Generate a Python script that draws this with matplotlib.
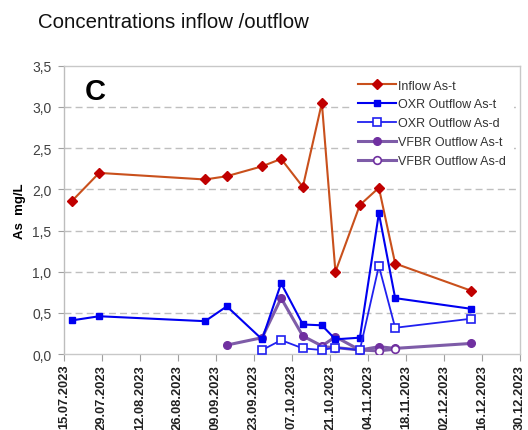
import matplotlib
matplotlib.use('Agg')
import matplotlib.pyplot as plt
import matplotlib.dates as mdates
import pandas as pd

plt.rcParams['font.family'] = ['Liberation Sans', 'DejaVu Sans']

#-----DATA-----#
inflow_dates = ['2023-07-18', '2023-07-28', '2023-09-05', '2023-09-13', '2023-09-26', '2023-10-03',
                '2023-10-11', '2023-10-18', '2023-10-23', '2023-11-01', '2023-11-08', '2023-11-14',
                '2023-12-12']
inflow_ast = [1.86, 2.20, 2.12, 2.16, 2.28, 2.37, 2.03, 3.05, 1.00, 1.81, 2.02, 1.10, 0.77]

oxr_t_dates = ['2023-07-18', '2023-07-28', '2023-09-05', '2023-09-13', '2023-09-26', '2023-10-03',
               '2023-10-11', '2023-10-18', '2023-10-23', '2023-11-01', '2023-11-08', '2023-11-14',
               '2023-12-12']
oxr_ast = [0.41, 0.46, 0.40, 0.58, 0.18, 0.86, 0.36, 0.35, 0.18, 0.20, 1.71, 0.68, 0.55]

oxr_d_dates = ['2023-09-26', '2023-10-03', '2023-10-11', '2023-10-18', '2023-10-23', '2023-11-01',
               '2023-11-08', '2023-11-14', '2023-12-12']
oxr_asd = [0.05, 0.17, 0.07, 0.05, 0.08, 0.05, 1.07, 0.32, 0.43]

vfbr_t_dates = ['2023-09-13', '2023-09-26', '2023-10-03', '2023-10-11', '2023-10-18', '2023-10-23',
                '2023-11-01', '2023-11-08', '2023-11-14', '2023-12-12']
vfbr_ast = [0.11, 0.20, 0.68, 0.22, 0.10, 0.21, 0.05, 0.09, 0.07, 0.13]

vfbr_d_dates = ['2023-10-18', '2023-10-23', '2023-11-01', '2023-11-08', '2023-11-14']
vfbr_asd = [0.09, 0.08, 0.05, 0.04, 0.06]

y_ticks = [0.0, 0.5, 1.0, 1.5, 2.0, 2.5, 3.0, 3.5]

#-----GRAPH-----#
fig = plt.figure(figsize=(5.28, 4.31), dpi=100)
ax = fig.add_axes([0.121, 0.176, 0.864, 0.669])

ax.plot(pd.to_datetime(inflow_dates), inflow_ast, color='#C9501C', lw=1.5, marker='D',
        ms=5.5, mfc='#C00000', mec='#C00000', label='Inflow As-t', zorder=5)
ax.plot(pd.to_datetime(oxr_t_dates), oxr_ast, color='#0000F0', lw=1.5, marker='s',
        ms=5, mfc='#0000F0', mec='#0000F0', label='OXR Outflow As-t', zorder=4)
ax.plot(pd.to_datetime(oxr_d_dates), oxr_asd, color='#2020F0', lw=1.3, marker='s',
        ms=6, mfc='white', mec='#2020F0', mew=1.2, label='OXR Outflow As-d', zorder=4)
ax.plot(pd.to_datetime(vfbr_t_dates), vfbr_ast, color='#7E5CA8', lw=2.2, marker='o',
        ms=5.5, mfc='#7030A0', mec='#7030A0', label='VFBR Outflow As-t', zorder=3)
ax.plot(pd.to_datetime(vfbr_d_dates), vfbr_asd, color='#7E5CA8', lw=2.2, marker='o',
        ms=5.5, mfc='white', mec='#7030A0', mew=1.2, label='VFBR Outflow As-d', zorder=3)

ax.set_xlim(pd.Timestamp('2023-07-15'), pd.Timestamp('2023-12-30'))
ax.set_ylim(0, 3.5)
ax.set_xticks(pd.date_range('2023-07-15', '2023-12-30', freq='14D'))
ax.xaxis.set_major_formatter(mdates.DateFormatter('%d.%m.%Y'))
ax.set_yticks(y_ticks)
ax.set_yticklabels([f'{v:.1f}'.replace('.', ',') for v in y_ticks])

ax.tick_params(axis='x', rotation=90, labelsize=9.3, color='#A0A0A0', length=5, width=0.8, pad=2)
ax.tick_params(axis='y', labelsize=10, labelcolor='#404040', color='#A0A0A0', length=4, width=0.8, pad=5)
for lab in ax.get_xticklabels():
    lab.set_fontweight('bold')
    lab.set_color('#202020')

for v in y_ticks[1:-1]:
    ax.axhline(v, color='#BFBFBF', lw=1, ls=(0, (5, 3)), zorder=0)

for s in ax.spines.values():
    s.set_color('#C8C8C8')
    s.set_linewidth(1)
ax.spines['left'].set_color('#BDBDBD')

ax.set_ylabel('As  mg/L', fontsize=9.5, fontweight='bold', labelpad=4)
ax.text(0.045, 0.96, 'C', transform=ax.transAxes, fontsize=21, fontweight='bold', va='top')

leg = ax.legend(loc='upper right', bbox_to_anchor=(1.0, 1.0), fontsize=9, frameon=True,
                handlelength=3.0, handletextpad=0.2, labelspacing=0.55, borderpad=0.6)
leg.get_frame().set_edgecolor('none')
leg.get_frame().set_facecolor('white')
leg.get_frame().set_alpha(1)
for t in leg.get_texts():
    t.set_color('#333333')

fig.text(0.072, 0.935, 'Concentrations inflow /outflow', fontsize=14.7, color='#111111')

fig.savefig('out.png', dpi=100)
